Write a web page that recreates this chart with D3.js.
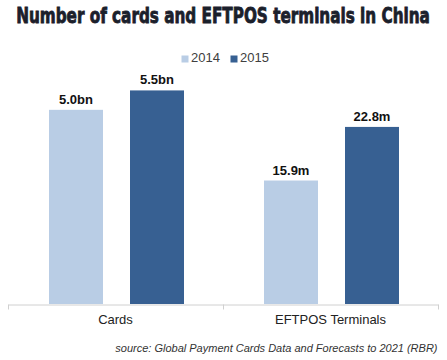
<!DOCTYPE html>
<html>
<head>
<meta charset="utf-8">
<script src="https://cdn.jsdelivr.net/npm/d3@7"></script>
<style>
  body { margin: 0; background: #fff; }
  svg { display: block; font-family: "Liberation Sans", Arial, sans-serif; }
</style>
</head>
<body>
<svg id="chart" width="447" height="360"></svg>
<script>
// chart data
var categories = ["Cards", "EFTPOS Terminals"];
var seriesNames = ["2014", "2015"];
var cardValues = [5.0, 5.5];       // bn
var terminalValues = [15.9, 22.8]; // m
var valueLabels = [["5.0bn", "5.5bn"], ["15.9m", "22.8m"]];
var colors = ["#b9cde5", "#376092"];

var svg = d3.select("svg#chart");
var baseY = 304;
var topY = 71;

var translate = function(x, y) {
  return "translate(" + String(x) + ", " + String(y) + ")";
};

/*Scales*/
var x0 = d3.scaleBand()
  .domain(categories)
  .range([8, 438])
  .padding(0);

var x1 = d3.scaleBand()
  .domain(seriesNames)
  .range([41, 176])
  .paddingInner(1 / 3);

// cards and terminals sit on separate (hidden) value axes
var yCards = d3.scaleLinear().domain([0, 6]).range([baseY, topY]);
var yTerm = d3.scaleLinear().domain([0, 30]).range([baseY, topY]);
var yScales = [yCards, yTerm];

var rows = categories.map(function(c, i) {
  var vals = i === 0 ? cardValues : terminalValues;
  return seriesNames.map(function(s, j) {
    return { cat: c, series: s, value: vals[j], label: valueLabels[i][j], y: yScales[i], color: colors[j] };
  });
});

// title, squeezed horizontally to a condensed look
var title = svg.append("text")
  .attr("x", 0)
  .attr("y", 0)
  .attr("text-anchor", "middle")
  .style("font-family", "'Liberation Sans Narrow', 'DejaVu Sans Condensed', sans-serif")
  .style("font-weight", "bold")
  .style("font-size", "21.5px")
  .style("fill", "#1b202b")
  .style("stroke", "#1b202b")
  .style("stroke-width", "0.8px")
  .text("Number of cards and EFTPOS terminals in China");
var titleW = title.node().getComputedTextLength();
title.attr("transform", translate(223, 23) + " scale(" + (414 / titleW) + ",1)");

// legend
var legend = svg.append("g").attr("transform", translate(0, 0));
var legendX = [181.5, 230.5];
seriesNames.forEach(function(s, j) {
  legend.append("rect")
    .attr("x", legendX[j])
    .attr("y", 55.5)
    .attr("width", 7)
    .attr("height", 7)
    .attr("fill", colors[j]);
  legend.append("text")
    .attr("x", legendX[j] + 9.5)
    .attr("y", 61.5)
    .style("font-size", "13px")
    .style("fill", "#404040")
    .text(s);
});

var plot = svg.append("g").attr("id", "plot");

var groups = plot.selectAll("g.group")
  .data(rows)
  .enter()
  .append("g")
  .attr("class", "group")
  .attr("transform", function(d, i) { return translate(x0(categories[i]), 0); });

groups.selectAll("rect")
  .data(function(d) { return d; })
  .enter()
  .append("rect")
  .attr("x", function(d) { return x1(d.series); })
  .attr("width", x1.bandwidth())
  .attr("y", function(d) { return d.y(d.value); })
  .attr("height", function(d) { return baseY - d.y(d.value); })
  .attr("fill", function(d) { return d.color; });

groups.selectAll("text.val")
  .data(function(d) { return d; })
  .enter()
  .append("text")
  .attr("class", "val")
  .attr("x", function(d) { return x1(d.series) + x1.bandwidth() / 2; })
  .attr("y", function(d) { return d.y(d.value) - 6; })
  .attr("text-anchor", "middle")
  .style("font-size", "13px")
  .style("font-weight", "bold")
  .style("fill", "#111")
  .text(function(d) { return d.label; });

// x axis
var xAxis = d3.axisBottom(x0).tickSize(0).tickPadding(10);
var axisG = plot.append("g")
  .attr("id", "x-axis")
  .attr("transform", translate(0, baseY + 0.5))
  .call(xAxis);
axisG.select(".domain").attr("stroke", "#d0d0d0");
axisG.selectAll("text")
  .style("font-size", "13px")
  .style("font-family", "'Liberation Sans', Arial, sans-serif")
  .style("fill", "#222");

var edges = [x0.range()[0]].concat(categories.map(function(c) { return x0(c) + x0.bandwidth(); }));
axisG.selectAll("line.edge")
  .data(edges)
  .enter()
  .append("line")
  .attr("class", "edge")
  .attr("x1", function(d) { return Math.round(d) + 0.5; })
  .attr("x2", function(d) { return Math.round(d) + 0.5; })
  .attr("y1", 0)
  .attr("y2", 5)
  .attr("stroke", "#d0d0d0");

// source
svg.append("text")
  .attr("x", 437.5)
  .attr("y", 352)
  .attr("text-anchor", "end")
  .style("font-size", "11px")
  .style("font-style", "italic")
  .style("fill", "#333")
  .text("source: Global Payment Cards Data and Forecasts to 2021 (RBR)");
</script>
</body>
</html>
